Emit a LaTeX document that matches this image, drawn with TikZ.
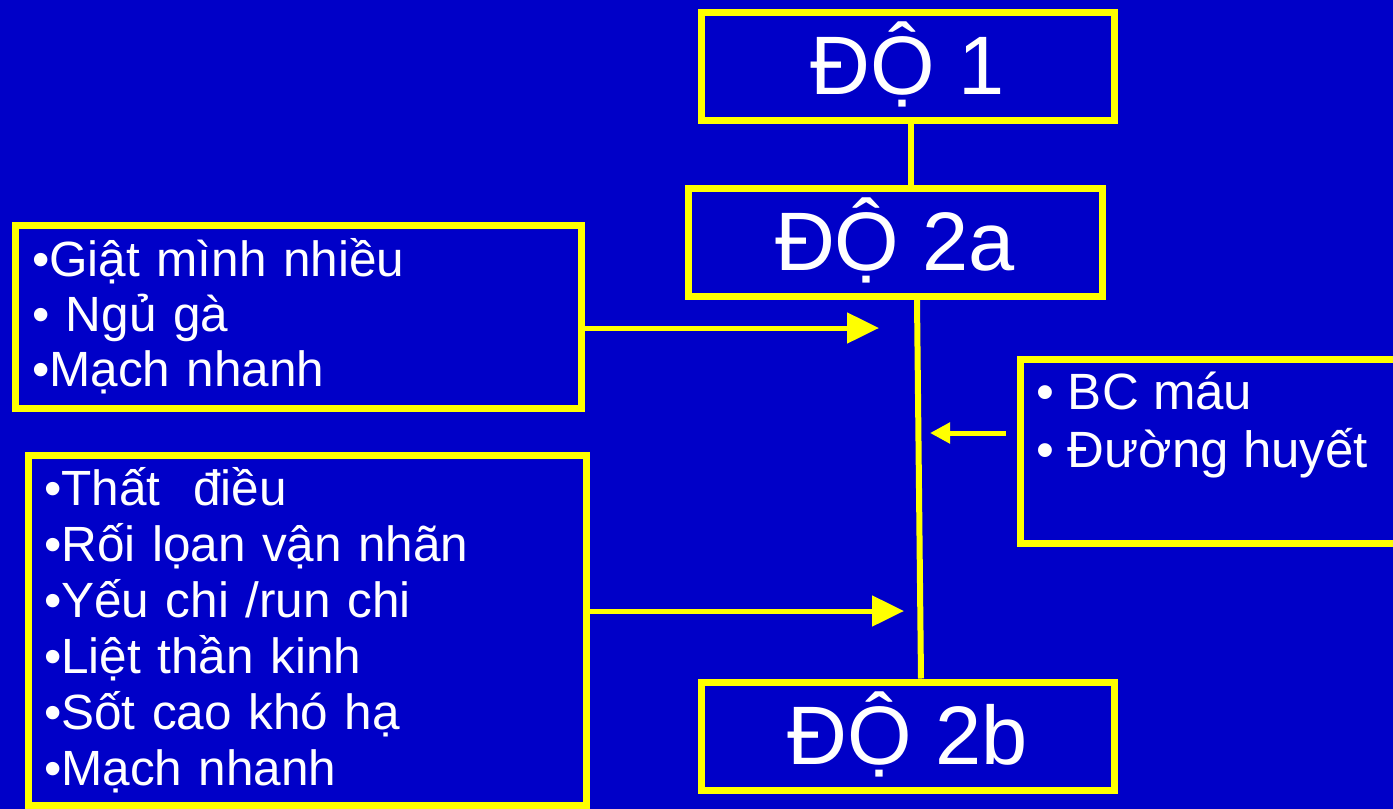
\documentclass[tikz,border=0pt]{standalone}
\usepackage{fontspec}
\setmainfont{Liberation Sans}
\usetikzlibrary{arrows.meta}
\definecolor{nen}{RGB}{0,0,200}
\definecolor{vang}{RGB}{255,255,0}

\begin{document}
\begin{tikzpicture}[x=1pt,y=-1pt,
  hop/.style={draw=vang,line width=7pt,text=white,inner sep=0pt},
  hopdo/.style={hop,minimum width=413pt,minimum height=108pt,text height=56pt,text depth=0pt,font=\fontsize{83}{90}\selectfont},
  dauhieu/.style={hop,align=left,font=\fontsize{49.5}{55}\selectfont},
  noi/.style={draw=vang,line width=6pt},
  muiten/.style={draw=vang,line width=5pt,-{Triangle[length=32pt,width=30pt]}},
  muitennho/.style={draw=vang,line width=5pt,-{Triangle[length=20pt,width=20pt]}}]
 \useasboundingbox (0,0) rectangle (1393,809);
 \clip (0,0) rectangle (1393,809);
 \fill[nen] (0,0) rectangle (1393,809);
 \node[hopdo] (do1) at (907.5,66) {ĐỘ 1};
 \node[hopdo,minimum width=414pt] (do2a) at (895,242.5) {ĐỘ 2a};
 \node[hopdo] (do2b) at (907.5,736) {ĐỘ 2b};
 \node[dauhieu,text width=532pt,inner xsep=17pt,minimum height=183pt] (dauhieu2a) at (298,316.5)
   {•Giật mình nhiều\\• Ngủ gà\\•Mạch nhanh};
 \node[dauhieu,text width=526pt,inner xsep=16pt,minimum height=350pt,font=\fontsize{49.5}{56}\selectfont] (dauhieu2b) at (307,630)
   {•Thất\ \ điều\\•Rối lọan vận nhãn\\•Yếu chi /run chi\\•Liệt thần kinh\\•Sốt cao khó hạ\\•Mạch nhanh};
 \node[hop,inner xsep=16pt,inner ysep=7pt,font=\fontsize{51}{58}\selectfont] (xetnghiem) at (1216,451)
   {\parbox[c][170pt][t]{360pt}{\raggedright\rule{0pt}{43pt}• BC máu\\• Đường huyết}};
 \coordinate (dich1) at (879,328);
 \coordinate (dich2) at (904,611);
 \coordinate (dich3) at (930,433);
 \coordinate (goc3) at (1006,433);
 \draw[noi] ([xshift=3pt]do1.south) -- ([xshift=3pt]do1.south |- do2a.north);
 \draw[noi] ([xshift=22pt]do2a.south) -- ([xshift=13.5pt]do2b.north);
 \draw[muiten] (dauhieu2a.east |- dich1) -- (dich1);
 \draw[muiten] (dauhieu2b.east |- dich2) -- (dich2);
 \draw[muitennho] (goc3) -- (dich3);
\end{tikzpicture}
\end{document}
